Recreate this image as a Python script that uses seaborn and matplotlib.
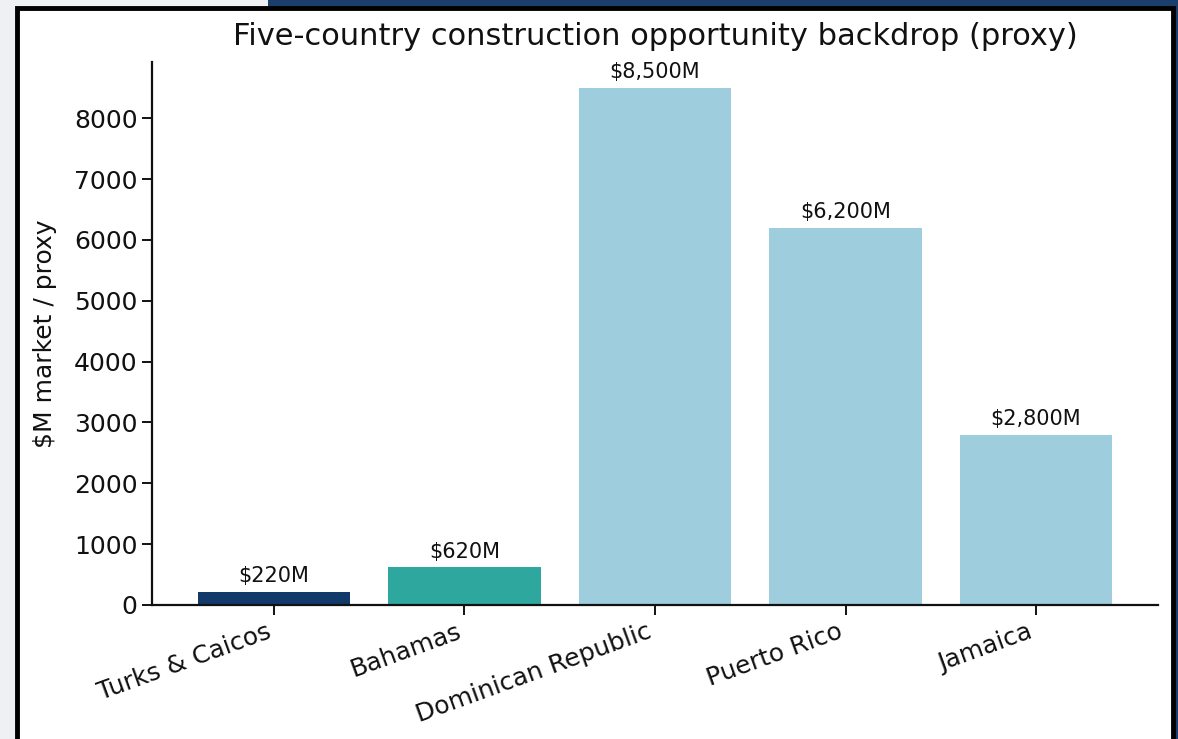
import matplotlib
matplotlib.use("Agg")
import matplotlib.pyplot as plt
import seaborn as sns
import pandas as pd
from matplotlib.patches import Rectangle

countries = ["Turks & Caicos", "Bahamas", "Dominican Republic", "Puerto Rico", "Jamaica"]
values = [220, 620, 8500, 6200, 2800]
bar_colors = ["#113a6b", "#2ea89f", "#9ecedd", "#9ecedd", "#9ecedd"]
value_labels = ["$220M", "$620M", "$8,500M", "$6,200M", "$2,800M"]

sns.set_theme(style="ticks")
plt.rcParams["font.family"] = ["DejaVu Sans"]

W, H = 1178, 739
fig = plt.figure(figsize=(W / 100, H / 100), dpi=100)
fig.patch.set_facecolor("#eef0f4")

# slide backdrop: navy band on top right, black framed white panel
fig.patches.append(Rectangle((268 / W, 1 - 7 / H), 1 - 268 / W, 7 / H,
                             transform=fig.transFigure, facecolor="#1b3f6c",
                             edgecolor="none", zorder=0))
fig.patches.append(Rectangle((1172 / W, 0), 6 / W, 1, transform=fig.transFigure,
                             facecolor="#1b3f6c", edgecolor="none", zorder=0))
fig.patches.append(Rectangle((17 / W, -0.05), (1173 - 17) / W, 1.05 - 7.5 / H,
                             transform=fig.transFigure, facecolor="white",
                             edgecolor="black", linewidth=3.5, zorder=0.5))

ax = fig.add_axes([152 / W, 134 / H, (1158 - 152) / W, (677 - 134) / H])
ax.set_zorder(2)
ax.set_facecolor("none")

df = pd.DataFrame({"country": countries, "value": values})
sns.barplot(data=df, x="country", y="value", hue="country", palette=bar_colors,
            legend=False, width=0.8, saturation=1, linewidth=0, ax=ax)

ax.set_xlim(-0.64, 4.64)
ax.set_ylim(0, 8925)
ax.set_yticks([0, 1000, 2000, 3000, 4000, 5000, 6000, 7000, 8000])
for cont, lab in zip(ax.containers, value_labels):
    ax.bar_label(cont, labels=[lab], padding=4, fontsize=15, color="#111111")

ax.set_title("Five-country construction opportunity backdrop (proxy)",
             fontsize=22, color="#111111", pad=12)
ax.set_ylabel("$M market / proxy", fontsize=18, color="#111111", labelpad=12)
ax.set_xlabel("")
ax.tick_params(axis="both", labelsize=18, colors="#111111", length=7, width=1.4)
plt.setp(ax.get_xticklabels(), rotation=20, ha="right")
for s in ["top", "right"]:
    ax.spines[s].set_visible(False)
for s in ["left", "bottom"]:
    ax.spines[s].set_linewidth(1.6)
    ax.spines[s].set_color("#111111")

fig.savefig("out.png", dpi=100, facecolor=fig.get_facecolor())
